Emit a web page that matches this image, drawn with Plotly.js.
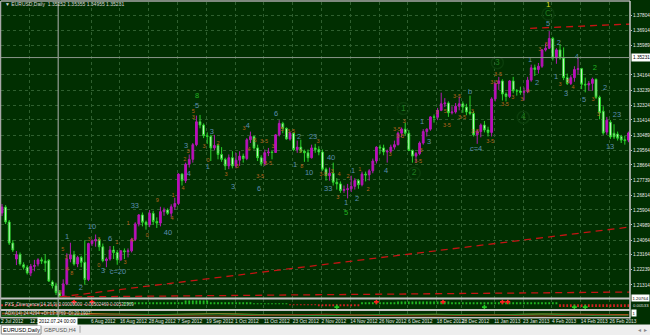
<!DOCTYPE html>
<html><head><meta charset="utf-8">
<script src="https://cdn.plot.ly/plotly-3.0.1.min.js"></script>
<style>html,body{margin:0;padding:0;background:#012f01;overflow:hidden}#chart{width:650px;height:335px}</style>
</head><body><div id="chart"></div><script>
// ---- EURUSD Daily, 2 Jul 2012 .. 5 Mar 2013 (one entry per bar) ----
const opens = [
1.2572,1.2608,1.2517,1.2388,1.2290,1.2318,1.2255,1.2240,1.2205,1.2245,
1.2260,1.2285,1.2278,1.2282,1.2150,1.2127,1.2085,1.2062,1.2138,1.2290,
1.2316,1.2260,1.2300,1.2270,1.2165,1.2385,1.2400,1.2410,1.2365,1.2280,
1.2290,1.2345,1.2330,1.2285,1.2340,1.2335,1.2340,1.2410,1.2505,1.2560,
1.2515,1.2500,1.2570,1.2520,1.2510,1.2580,1.2590,1.2570,1.2610,1.2630,
1.2810,1.2770,1.2870,1.2900,1.2990,1.3130,1.3110,1.3045,1.3040,1.2970,
1.2985,1.2930,1.2900,1.2860,1.2910,1.2860,1.2895,1.2920,1.2905,1.3020,
1.3040,1.2970,1.2910,1.2875,1.2940,1.2945,1.2942,1.3050,1.3120,1.3090,
1.3025,1.3060,1.2960,1.2975,1.2950,1.2940,1.2910,1.2970,1.2960,1.2945,
1.2840,1.2800,1.2815,1.2760,1.2750,1.2710,1.2715,1.2720,1.2735,1.2770,
1.2745,1.2810,1.2805,1.2830,1.2890,1.2975,1.2970,1.2945,1.2950,1.2975,
1.2990,1.3060,1.3085,1.3060,1.2955,1.2920,1.2935,1.3000,1.3070,1.3085,
1.3160,1.3158,1.3200,1.3240,1.3245,1.3185,1.3190,1.3225,1.3240,1.3220,
1.3190,1.3180,1.3050,1.3070,1.3110,1.3080,1.3065,1.3270,1.3365,1.3380,
1.3300,1.3285,1.3380,1.3320,1.3318,1.3310,1.3315,1.3385,1.3460,1.3450,
1.3470,1.3570,1.3580,1.3640,1.3520,1.3570,1.3520,1.3400,1.3365,1.3400,
1.3450,1.3455,1.3360,1.3355,1.3365,1.3390,1.3280,1.3195,1.3067,1.3128,
1.3060,1.3055,1.3040,1.3020,1.3018];
const highs = [
1.2627,1.2620,1.2529,1.2406,1.2339,1.2330,1.2270,1.2252,1.2260,1.2285,
1.2295,1.2300,1.2320,1.2290,1.2160,1.2145,1.2100,1.2166,1.2325,1.2390,
1.2340,1.2310,1.2310,1.2405,1.2390,1.2410,1.2440,1.2420,1.2385,1.2300,
1.2370,1.2370,1.2345,1.2345,1.2355,1.2355,1.2420,1.2515,1.2565,1.2575,
1.2525,1.2590,1.2585,1.2545,1.2610,1.2605,1.2600,1.2625,1.2665,1.2815,
1.2815,1.2880,1.2930,1.3000,1.3168,1.3172,1.3120,1.3065,1.3050,1.3050,
1.2995,1.2975,1.2910,1.2930,1.2950,1.2940,1.2950,1.2935,1.3030,1.3070,
1.3045,1.2990,1.2925,1.2960,1.2970,1.2950,1.3055,1.3140,1.3130,1.3095,
1.3070,1.3065,1.3015,1.3020,1.2960,1.2960,1.2990,1.2995,1.2980,1.2960,
1.2850,1.2850,1.2880,1.2785,1.2765,1.2740,1.2750,1.2800,1.2785,1.2780,
1.2825,1.2825,1.2840,1.2905,1.2980,1.2990,1.2990,1.2960,1.2990,1.3015,
1.3070,1.3095,1.3125,1.3080,1.2960,1.2945,1.3010,1.3085,1.3090,1.3165,
1.3175,1.3215,1.3308,1.3275,1.3255,1.3225,1.3245,1.3285,1.3255,1.3240,
1.3290,1.3195,1.3080,1.3120,1.3135,1.3100,1.3280,1.3370,1.3405,1.3390,
1.3310,1.3385,1.3405,1.3330,1.3345,1.3340,1.3405,1.3480,1.3480,1.3490,
1.3575,1.3610,1.3685,1.3650,1.3580,1.3605,1.3585,1.3425,1.3415,1.3470,
1.3520,1.3460,1.3400,1.3380,1.3400,1.3395,1.3290,1.3225,1.3160,1.3140,
1.3115,1.3070,1.3050,1.3045,1.3070];
const lows = [
1.2553,1.2504,1.2376,1.2333,1.2253,1.2250,1.2225,1.2195,1.2185,1.2215,
1.2245,1.2260,1.2212,1.2150,1.2110,1.2070,1.2050,1.2055,1.2130,1.2270,
1.2250,1.2240,1.2240,1.2133,1.2155,1.2370,1.2365,1.2340,1.2270,1.2240,
1.2280,1.2290,1.2255,1.2280,1.2290,1.2300,1.2330,1.2400,1.2490,1.2490,
1.2470,1.2485,1.2500,1.2480,1.2490,1.2555,1.2560,1.2545,1.2590,1.2620,
1.2740,1.2755,1.2850,1.2880,1.2980,1.3090,1.3030,1.2995,1.2890,1.2955,
1.2900,1.2885,1.2835,1.2840,1.2845,1.2845,1.2860,1.2880,1.2895,1.3000,
1.2960,1.2890,1.2860,1.2860,1.2920,1.2900,1.2940,1.3040,1.3060,1.3020,
1.3015,1.2950,1.2940,1.2940,1.2885,1.2885,1.2905,1.2940,1.2925,1.2830,
1.2770,1.2770,1.2740,1.2715,1.2695,1.2695,1.2661,1.2700,1.2715,1.2720,
1.2735,1.2765,1.2770,1.2815,1.2875,1.2935,1.2925,1.2880,1.2940,1.2960,
1.2985,1.3035,1.3045,1.2950,1.2880,1.2880,1.2925,1.2990,1.3040,1.3075,
1.3125,1.3140,1.3195,1.3220,1.3160,1.3175,1.3180,1.3200,1.3185,1.3170,
1.3170,1.3040,1.2995,1.3035,1.3065,1.3040,1.3040,1.3255,1.3325,1.3260,
1.3255,1.3275,1.3305,1.3290,1.3295,1.3260,1.3305,1.3375,1.3410,1.3425,
1.3460,1.3560,1.3575,1.3505,1.3485,1.3510,1.3385,1.3355,1.3355,1.3375,
1.3420,1.3330,1.3310,1.3320,1.3320,1.3270,1.3145,1.3050,1.3050,1.3025,
1.3025,1.3015,1.3000,1.2990,1.3005];
const closes = [
1.2608,1.2517,1.2388,1.2345,1.2318,1.2260,1.2240,1.2205,1.2245,1.2250,
1.2285,1.2278,1.2265,1.2155,1.2127,1.2085,1.2062,1.2138,1.2290,1.2316,
1.2260,1.2300,1.2270,1.2165,1.2385,1.2400,1.2410,1.2365,1.2280,1.2290,
1.2345,1.2330,1.2285,1.2340,1.2335,1.2340,1.2410,1.2505,1.2560,1.2515,
1.2500,1.2570,1.2520,1.2510,1.2580,1.2590,1.2570,1.2610,1.2630,1.2810,
1.2770,1.2870,1.2900,1.2990,1.3130,1.3110,1.3045,1.3040,1.2970,1.2985,
1.2930,1.2900,1.2860,1.2910,1.2860,1.2895,1.2920,1.2905,1.3020,1.3040,
1.2970,1.2910,1.2875,1.2940,1.2945,1.2942,1.3050,1.3120,1.3090,1.3025,
1.3060,1.2960,1.2975,1.2950,1.2940,1.2910,1.2970,1.2960,1.2945,1.2840,
1.2800,1.2815,1.2760,1.2750,1.2710,1.2715,1.2720,1.2735,1.2770,1.2745,
1.2810,1.2805,1.2830,1.2890,1.2975,1.2970,1.2945,1.2950,1.2975,1.2990,
1.3060,1.3085,1.3060,1.2955,1.2920,1.2935,1.3000,1.3070,1.3085,1.3160,
1.3158,1.3200,1.3240,1.3245,1.3185,1.3190,1.3225,1.3240,1.3220,1.3190,
1.3180,1.3050,1.3070,1.3110,1.3080,1.3065,1.3270,1.3365,1.3380,1.3300,
1.3285,1.3380,1.3320,1.3318,1.3310,1.3315,1.3385,1.3460,1.3450,1.3470,
1.3570,1.3580,1.3640,1.3520,1.3570,1.3520,1.3400,1.3365,1.3400,1.3450,
1.3455,1.3360,1.3355,1.3365,1.3390,1.3280,1.3185,1.3061,1.3140,1.3037,
1.3037,1.3030,1.3018,1.3015,1.3061];

// date axis labels and the bar each one belongs to (24 Jul is hidden under the crosshair box)
const tickDates = ['2 Jul 2012','12 Jul 2012','6 Aug 2012','16 Aug 2012','28 Aug 2012','7 Sep 2012','19 Sep 2012','1 Oct 2012','11 Oct 2012','23 Oct 2012','2 Nov 2012','14 Nov 2012','26 Nov 2012','6 Dec 2012','18 Dec 2012','28 Dec 2012','11 Jan 2013','23 Jan 2013','4 Feb 2013','14 Feb 2013','26 Feb 2013'];
const tickBars = [0,8,25,33,41,49,57,65,73,81,89,97,105,113,121,128,137,145,153,161,169];
// price labels (1.35064 is hidden under the crosshair price box)
const priceTicks = [1.37804,1.36914,1.35989,1.34164,1.33239,1.32324,1.31414,1.30489,1.29564,1.28664,1.27739,1.26814,1.25904,1.24989,1.24064,1.23164,1.22239,1.21314];

// drawn trend lines (bar, price)
const trendUpBars = [16, 174.4], trendUpPx = [1.2058, 1.2486];
const trendTopBars = [146.7, 174.4], trendTopPx = [1.3702, 1.3728];
const trendLowBars = [17, 174.4], trendLowPx = [1.2058, 1.2088];

// crosshair
const crossBar = 15.6, crossPrice = 1.35231, crossDate = '2012.07.24 00:00';

// wave labels
const blueTxt = ['1','10','6','2','3','c=20','33','40','5','3','4','3','1','3','4','6','6','2','23','1','10','40','33','1','1','2','4','1','3','b','c=4','1','2','2','1','3','4','5','2','23','13','5'];
const blueBar = [18.1,25.0,30.0,21.9,28.1,32.2,36.9,46.1,54.2,51.1,51.9,58.3,57.2,64.2,68.3,76.1,71.4,82.5,86.4,81.4,85.3,91.4,90.6,95.6,97.5,98.6,106.7,116.7,118.6,130.0,131.7,146.7,148.6,154.7,153.9,156.7,159.7,161.7,167.5,170.8,168.9,151.7];
const bluePx = [1.2425,1.2486,1.2413,1.2113,1.2217,1.2211,1.2615,1.2449,1.3225,1.2982,1.2810,1.3067,1.2853,1.2731,1.3104,1.3178,1.2719,1.3037,1.3037,1.2866,1.2817,1.2908,1.2719,1.2633,1.2829,1.2657,1.2829,1.3129,1.3006,1.3312,1.2963,1.3508,1.3367,1.3612,1.3404,1.3300,1.3526,1.3263,1.3337,1.3172,1.2976,1.3729];
const greenTxt = ['8','5','2'], greenBar = [54.2,95.6,164.7], greenPx = [1.3290,1.2572,1.3459];
const circTxt = ['1','2','3','4','C'], circBar = [111.5,114.5,137.6,144.8,151.7], circPx = [1.3212,1.2815,1.3492,1.3157,1.3790];
const yellowTxt = ['1'], yellowBar = [151.7], yellowPx = [1.3843];
const orTxt = ['5','3','4','3','8','3','3','0','1','3','1','4','0','9','4','1','4','5','3','3','2','3','0','2','3','3','3','4','6','3-5','3','3-5','3-5','5','3-5','3','8','3','3-5','3','3','4','2','1','2','3','3-5','3-5','3','3-5','3','3','5','3-5','3-5','3-5','3','3-5','3-5','3-5','3-5','3-5','3','3','4','3','3','3','3','4','3','3'];
const orBar = [16.9,17.8,18.1,16.1,19.4,24.2,26.9,26.9,31.9,34.2,35.0,36.1,40.3,43.1,47.2,47.5,50.3,53.1,53.1,51.7,50.8,56.1,57.2,60.0,62.2,65.3,67.2,68.6,70.3,72.8,75.3,71.7,73.9,77.8,80.3,82.8,83.3,87.8,89.2,91.7,93.3,93.6,96.1,99.4,101.7,107.8,109.7,110.6,111.7,115.6,116.4,120.8,123.1,123.6,126.4,127.8,130.6,131.4,135.6,136.7,137.8,139.7,141.9,144.4,146.1,149.4,151.1,155.0,157.2,158.6,164.2,165.6];
const orPx = [1.2345,1.2296,1.2223,1.2082,1.2198,1.2407,1.2407,1.2247,1.2388,1.2266,1.2505,1.2400,1.2431,1.2645,1.2535,1.2676,1.2719,1.3190,1.3153,1.2945,1.2896,1.2976,1.2890,1.2994,1.2804,1.2853,1.3086,1.2957,1.3012,1.3006,1.2976,1.2792,1.2872,1.3080,1.3068,1.2945,1.2853,1.3006,1.2804,1.2823,1.2664,1.2804,1.2792,1.2835,1.2713,1.2927,1.3080,1.3037,1.3129,1.2885,1.2951,1.3184,1.3190,1.3104,1.3282,1.3153,1.3190,1.3068,1.3006,1.3367,1.3416,1.3233,1.3276,1.3263,1.3312,1.3569,1.3600,1.3355,1.3373,1.3337,1.3263,1.3172];

// PXS_Divergence histogram, read as runs of bars
const pxsRunStart = [0,17,34,51,58,70,80,88,100,110,125,140,155];
const pxsRunEnd   = [16,33,50,57,69,79,87,99,109,124,139,154,174];
const pxsRunVal   = [-2,-1,2,4,2,1,-1,-2,2,3,2,2,-3];
const pxsRedPlusBar = [20,25,104,122.5,139,140.5], pxsRedPlusVal = [2.5,2.5,2.5,2.5,2.5,2.5];
const pxsGreenPlusBar = [93,134,159,162], pxsGreenPlusVal = [-3,-3,-3,-3];

// ADX(14)
const adxBar = [0,15,30,45,60,75,90,105,120,135,150,165,174];
const adxMain = [38,42,30,24,35,22,20,18,26,22,30,24,24];
const adxPlus = [12,10,22,28,30,20,14,25,28,20,30,14,13];
const adxMinus = [30,34,18,12,10,18,28,14,10,20,10,24,20];

// ---------------- build ----------------
const FONT = 'Liberation Sans, Arial, sans-serif';
const barIdx = closes.map((_, i) => i);
const traces = [];
traces.push({type:'candlestick', x:barIdx, open:opens, high:highs, low:lows, close:closes,
  xaxis:'x', yaxis:'y', whiskerwidth:0, hoverinfo:'skip',
  increasing:{line:{color:'#b21ab2', width:1}, fillcolor:'#c400c4'},
  decreasing:{line:{color:'#2ad22a', width:1}, fillcolor:'#eaffea'}});
const dashRed = {color:'#c41414', width:1.3, dash:'7px,5px'};
[[trendUpBars,trendUpPx],[trendTopBars,trendTopPx],[trendLowBars,trendLowPx]].forEach(([bx,py]) =>
  traces.push({type:'scatter', mode:'lines', x:bx, y:py, line:dashRed, hoverinfo:'skip', yaxis:'y'}));
function txt(xs, ys, t, size, color) {
  return {type:'scatter', mode:'text', x:xs, y:ys, text:t, textposition:'middle center',
    textfont:{family:FONT, size:size, color:color}, hoverinfo:'skip', yaxis:'y'};
}
traces.push(txt(orBar, orPx, orTxt, 5.5, '#b8621e'));
traces.push(txt(blueBar, bluePx, blueTxt, 7.5, '#5a8db0'));
traces.push(txt(greenBar, greenPx, greenTxt, 7.5, '#22b422'));
traces.push({type:'scatter', mode:'markers+text', x:circBar, y:circPx, text:circTxt, textposition:'middle center',
  textfont:{family:FONT, size:8.5, color:'#1f7a1f'}, marker:{symbol:'circle-open', size:12, color:'#0b3d0b', line:{width:1.5, color:'#0b3d0b'}},
  hoverinfo:'skip', yaxis:'y'});
traces.push(txt(yellowBar, yellowPx, yellowTxt, 8, '#d8d820'));

// PXS histogram
const pxsX = [], pxsY = [], pxsC = [];
pxsRunStart.forEach((s, k) => { for (let i = s; i <= pxsRunEnd[k]; i++) { pxsX.push(i); pxsY.push(pxsRunVal[k]); pxsC.push(pxsRunVal[k] >= 0 ? '#22b822' : '#d02020'); } });
traces.push({type:'bar', x:pxsX, y:pxsY, marker:{color:pxsC, line:{width:0}}, width:0.5, xaxis:'x', yaxis:'y2', hoverinfo:'skip'});
traces.push({type:'scatter', mode:'markers', x:pxsRedPlusBar, y:pxsRedPlusVal, marker:{symbol:'cross', size:4, color:'#ff2020'}, yaxis:'y2', hoverinfo:'skip'});
traces.push({type:'scatter', mode:'markers', x:pxsGreenPlusBar, y:pxsGreenPlusVal, marker:{symbol:'cross', size:4, color:'#22c822'}, yaxis:'y2', hoverinfo:'skip'});
// ADX
[[adxMain,'#c87a2a'],[adxPlus,'#2e8b2e'],[adxMinus,'#8b3a1a']].forEach(([v,c]) =>
  traces.push({type:'scatter', mode:'lines', x:adxBar, y:v, line:{color:c, width:1}, yaxis:'y3', hoverinfo:'skip'}));

const GRID = '#2f5f2f';
const bands = [[0.0556,0.0619],[0.019,0.0254],[-0.0048,0]];
const shapes = [];
// tab strip (drawn below the axis labels)
shapes.push({type:'rect', xref:'paper', yref:'paper', x0:-0.01, x1:1.04, y0:-0.0238, y1:-0.07, fillcolor:'#eeeeee', line:{width:0}, layer:'below'});
shapes.push({type:'rect', xref:'paper', yref:'paper', x0:0.0005, x1:0.0636, y0:-0.0262, y1:-0.054, fillcolor:'#ffffff', line:{color:'#8c8c8c', width:1}, layer:'below'});
shapes.push({type:'line', xref:'paper', yref:'paper', x0:0.1256, x1:0.1256, y0:-0.028, y1:-0.05, line:{color:'#a0a0a0', width:1}, layer:'below'});
bands.forEach(([a,b]) => shapes.push({type:'rect', xref:'paper', yref:'paper', x0:0, x1:1, y0:a, y1:b, fillcolor:'#c4c4c4', line:{width:0}, layer:'above'}));
shapes.push({type:'line', xref:'paper', yref:'paper', x0:-0.0008, x1:-0.0008, y0:-0.0048, y1:1.003, line:{color:'#a8a8a8', width:1.5}});
shapes.push({type:'line', xref:'paper', yref:'paper', x0:0, x1:1, y0:1.003, y1:1.003, line:{color:'#a8a8a8', width:1.5}});
shapes.push({type:'line', xref:'paper', yref:'paper', x0:1, x1:1, y0:-0.0048, y1:1.003, line:{color:'#c8c8c8', width:1.5}});
shapes.push({type:'line', xref:'x', yref:'paper', x0:crossBar, x1:crossBar, y0:-0.0048, y1:1, line:{color:'#b4b4b4', width:1}});
shapes.push({type:'line', xref:'paper', yref:'y', x0:0, x1:1, y0:crossPrice, y1:crossPrice, line:{color:'#8a968a', width:1}});

const annotations = [
  {xref:'paper', yref:'paper', x:0.0032, y:0.9952, xanchor:'left', yanchor:'middle', showarrow:false, text:'▼ EURUSD,Daily  1.35252 1.35355 1.34955 1.35231', font:{family:FONT, size:5, color:'#d8d8d8'}},
  {xref:'paper', yref:'paper', x:0.0032, y:0.0397, xanchor:'left', yanchor:'middle', showarrow:false, text:'PXS_Divergence(14,26,9) 0.00000000 -0.00502469 0.00532969', font:{family:FONT, size:4.5, color:'#d8d8d8'}},
  {xref:'paper', yref:'paper', x:0.0032, y:0.0111, xanchor:'left', yanchor:'middle', showarrow:false, text:'ADX(14) 24.4294 +DI:13.3769 -DI:20.1907', font:{family:FONT, size:4.5, color:'#d8d8d8'}},
  {xref:'paper', yref:'y', x:1.0016, y:crossPrice, xanchor:'left', yanchor:'middle', showarrow:false, text:crossPrice.toFixed(5), bgcolor:'#ffffff', borderpad:1, font:{family:FONT, size:4.7, color:'#000000'}},
  {xref:'x', yref:'paper', x:crossBar, xshift:-1, y:-0.0127, xanchor:'center', yanchor:'middle', showarrow:false, text:crossDate, bgcolor:'#ffffff', borderpad:1, font:{family:FONT, size:4.7, color:'#000000'}},
  {xref:'paper', yref:'paper', x:1.0016, y:0.0603, xanchor:'left', yanchor:'middle', showarrow:false, text:'1.20764', bgcolor:'#ffffff', borderpad:0.5, font:{family:FONT, size:4.3, color:'#000000'}},
  {xref:'paper', yref:'paper', x:1.0016, y:0.038, xanchor:'left', yanchor:'middle', showarrow:false, text:'0.00533', font:{family:FONT, size:4.3, color:'#e0e0e0'}},
  {xref:'paper', yref:'paper', x:1.0016, y:0.0127, xanchor:'left', yanchor:'middle', showarrow:false, text:'1', bgcolor:'#ffffff', borderpad:0.5, font:{family:FONT, size:4.3, color:'#000000'}},
  {xref:'paper', yref:'paper', x:0.032, y:-0.0405, xanchor:'center', yanchor:'middle', showarrow:false, text:'EURUSD,Daily', font:{family:FONT, size:5.5, color:'#000000'}},
  {xref:'paper', yref:'paper', x:0.094, y:-0.0405, xanchor:'center', yanchor:'middle', showarrow:false, text:'GBPUSD,H4', font:{family:FONT, size:5.5, color:'#555555'}},
  {xref:'paper', yref:'paper', x:1.0195, y:-0.0405, xanchor:'center', yanchor:'middle', showarrow:false, text:'◂  ▸', font:{family:FONT, size:5.5, color:'#888888'}}
];

const layout = {
  width:650, height:335, margin:{l:1, r:20, t:2, b:18, pad:0},
  paper_bgcolor:'#012f01', plot_bgcolor:'#012f01', showlegend:false, hovermode:false,
  font:{family:FONT, size:5, color:'#e6e6e6'},
  xaxis:{domain:[0,1], range:[-0.28,174.44], anchor:'y3', tickmode:'array',
    tickvals:tickBars.map(b => b - 0.25), ticktext:tickDates, ticklabelposition:'outside right',
    tickangle:0, ticks:'', tickfont:{family:FONT, size:4.8, color:'#e6e6e6'},
    showgrid:true, gridcolor:GRID, griddash:'dot', gridwidth:1, zeroline:false, showline:false,
    rangeslider:{visible:false}, fixedrange:true},
  yaxis:{domain:[0.0619,1], range:[1.20546,1.38631], side:'right', anchor:'x', tickmode:'array',
    tickvals:priceTicks, ticktext:priceTicks.map(v => v.toFixed(5)), ticks:'outside', ticklen:1, tickcolor:'#c0c0c0',
    tickfont:{family:FONT, size:4.7, color:'#e6e6e6'}, showgrid:true, gridcolor:GRID, griddash:'dot', gridwidth:1,
    zeroline:false, showline:false, fixedrange:true},
  yaxis2:{domain:[0.0254,0.0556], range:[-5,5], anchor:'x', side:'right', showticklabels:false, ticks:'', showgrid:false, zeroline:false, fixedrange:true},
  yaxis3:{domain:[0,0.019], range:[0,60], anchor:'x', side:'right', showticklabels:false, ticks:'', showgrid:false, zeroline:false, fixedrange:true},
  shapes:shapes, annotations:annotations
};
Plotly.newPlot('chart', traces, layout, {staticPlot:true, displayModeBar:false});
</script></body></html>
